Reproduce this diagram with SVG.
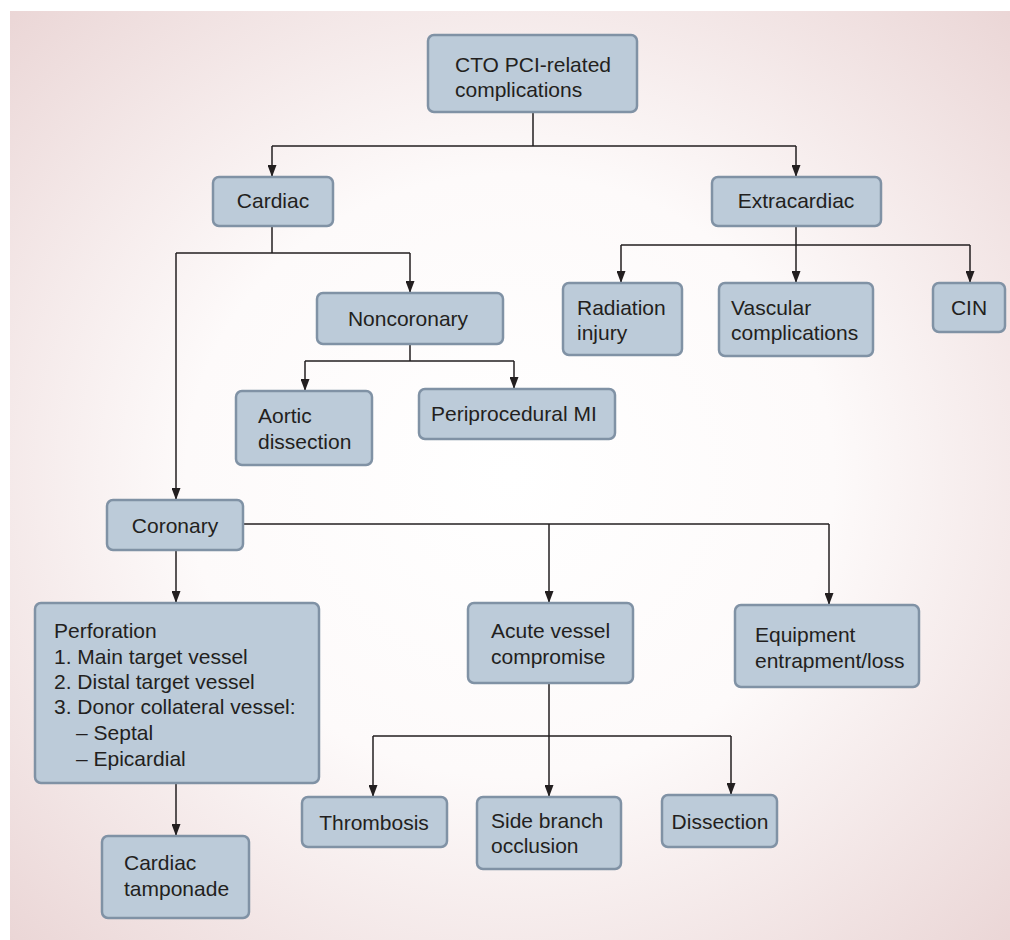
<svg xmlns="http://www.w3.org/2000/svg" width="1010" height="940" viewBox="0 0 1010 940">
<defs>
<radialGradient id="bg" cx="0.5" cy="0.5" r="0.72">
<stop offset="0" stop-color="#ffffff"/>
<stop offset="0.45" stop-color="#fdfafa"/>
<stop offset="1" stop-color="#ead5d5"/>
</radialGradient>
<marker id="arr" viewBox="0 0 12 9" refX="12" refY="4.5" markerWidth="12" markerHeight="9" markerUnits="userSpaceOnUse" orient="auto">
<path d="M0,0 L12,4.5 L0,9 z" fill="#231f20"/>
</marker>
</defs>
<style>
.box{fill:#bccbd9;stroke:#8092a5;stroke-width:2.5}
.t{font-family:"Liberation Sans",Arial,sans-serif;font-size:21px;fill:#231f20}
.c{text-anchor:middle}
.ln{fill:none;stroke:#231f20;stroke-width:1.5}
</style>
<rect x="10" y="11" width="1000" height="929" fill="url(#bg)"/>
<g id="connectors">
<path class="ln" d="M533,112 V146 M272,146 H796"/>
<path class="ln" d="M272,146 V177" marker-end="url(#arr)"/>
<path class="ln" d="M796,146 V177" marker-end="url(#arr)"/>
<path class="ln" d="M272,226 V253 M176,253 H410"/>
<path class="ln" d="M176,253 V500" marker-end="url(#arr)"/>
<path class="ln" d="M410,253 V293" marker-end="url(#arr)"/>
<path class="ln" d="M410,344 V361 M305,361 H514"/>
<path class="ln" d="M305,361 V391" marker-end="url(#arr)"/>
<path class="ln" d="M514,361 V389" marker-end="url(#arr)"/>
<path class="ln" d="M796,226 V245 M621,245 H970"/>
<path class="ln" d="M621,245 V283" marker-end="url(#arr)"/>
<path class="ln" d="M796,245 V283" marker-end="url(#arr)"/>
<path class="ln" d="M970,245 V283" marker-end="url(#arr)"/>
<path class="ln" d="M243,524 H829"/>
<path class="ln" d="M549,524 V603" marker-end="url(#arr)"/>
<path class="ln" d="M829,524 V605" marker-end="url(#arr)"/>
<path class="ln" d="M176,550 V603" marker-end="url(#arr)"/>
<path class="ln" d="M176,783 V836" marker-end="url(#arr)"/>
<path class="ln" d="M549,683 V736 M373,736 H731"/>
<path class="ln" d="M373,736 V797" marker-end="url(#arr)"/>
<path class="ln" d="M549,736 V797" marker-end="url(#arr)"/>
<path class="ln" d="M731,736 V795" marker-end="url(#arr)"/>
</g>
<g id="n-root"><rect class="box" x="428" y="35" width="209" height="77" rx="6"/><text class="t" x="455" y="72">CTO PCI-related</text><text class="t" x="455" y="97">complications</text></g>
<g id="n-cardiac"><rect class="box" x="213" y="177" width="120" height="49" rx="6"/><text class="t c" x="273" y="208">Cardiac</text></g>
<g id="n-extracardiac"><rect class="box" x="712" y="177" width="169" height="49" rx="6"/><text class="t c" x="796" y="208">Extracardiac</text></g>
<g id="n-noncoronary"><rect class="box" x="317" y="293" width="186" height="51" rx="6"/><text class="t c" x="408" y="326">Noncoronary</text></g>
<g id="n-aortic"><rect class="box" x="236" y="391" width="136" height="74" rx="6"/><text class="t" x="258" y="423">Aortic</text><text class="t" x="258" y="449">dissection</text></g>
<g id="n-mi"><rect class="box" x="419" y="389" width="196" height="50" rx="6"/><text class="t" x="431" y="421">Periprocedural MI</text></g>
<g id="n-radiation"><rect class="box" x="563" y="283" width="119" height="72" rx="6"/><text class="t" x="577" y="315">Radiation</text><text class="t" x="577" y="340">injury</text></g>
<g id="n-vascular"><rect class="box" x="719" y="283" width="154" height="73" rx="6"/><text class="t" x="731" y="315">Vascular</text><text class="t" x="731" y="340">complications</text></g>
<g id="n-cin"><rect class="box" x="933" y="283" width="72" height="49" rx="6"/><text class="t c" x="969" y="315">CIN</text></g>
<g id="n-coronary"><rect class="box" x="107" y="500" width="136" height="50" rx="6"/><text class="t c" x="175" y="533">Coronary</text></g>
<g id="n-perforation"><rect class="box" x="35" y="603" width="284" height="180" rx="6"/>
<text class="t" x="54" y="638">Perforation</text>
<text class="t" x="54" y="664">1. Main target vessel</text>
<text class="t" x="54" y="689">2. Distal target vessel</text>
<text class="t" x="54" y="714">3. Donor collateral vessel:</text>
<text class="t" x="76" y="740">– Septal</text>
<text class="t" x="76" y="766">– Epicardial</text></g>
<g id="n-tamponade"><rect class="box" x="102" y="836" width="147" height="82" rx="6"/><text class="t" x="124" y="870">Cardiac</text><text class="t" x="124" y="896">tamponade</text></g>
<g id="n-acute"><rect class="box" x="468" y="603" width="165" height="80" rx="6"/><text class="t" x="491" y="638">Acute vessel</text><text class="t" x="491" y="664">compromise</text></g>
<g id="n-equipment"><rect class="box" x="735" y="605" width="184" height="82" rx="6"/><text class="t" x="755" y="642">Equipment</text><text class="t" x="755" y="668">entrapment/loss</text></g>
<g id="n-thrombosis"><rect class="box" x="302" y="797" width="145" height="50" rx="6"/><text class="t c" x="374" y="830">Thrombosis</text></g>
<g id="n-sidebranch"><rect class="box" x="477" y="797" width="144" height="72" rx="6"/><text class="t" x="491" y="828">Side branch</text><text class="t" x="491" y="853">occlusion</text></g>
<g id="n-dissection"><rect class="box" x="662" y="795" width="115" height="52" rx="6"/><text class="t c" x="720" y="829">Dissection</text></g>
</svg>
